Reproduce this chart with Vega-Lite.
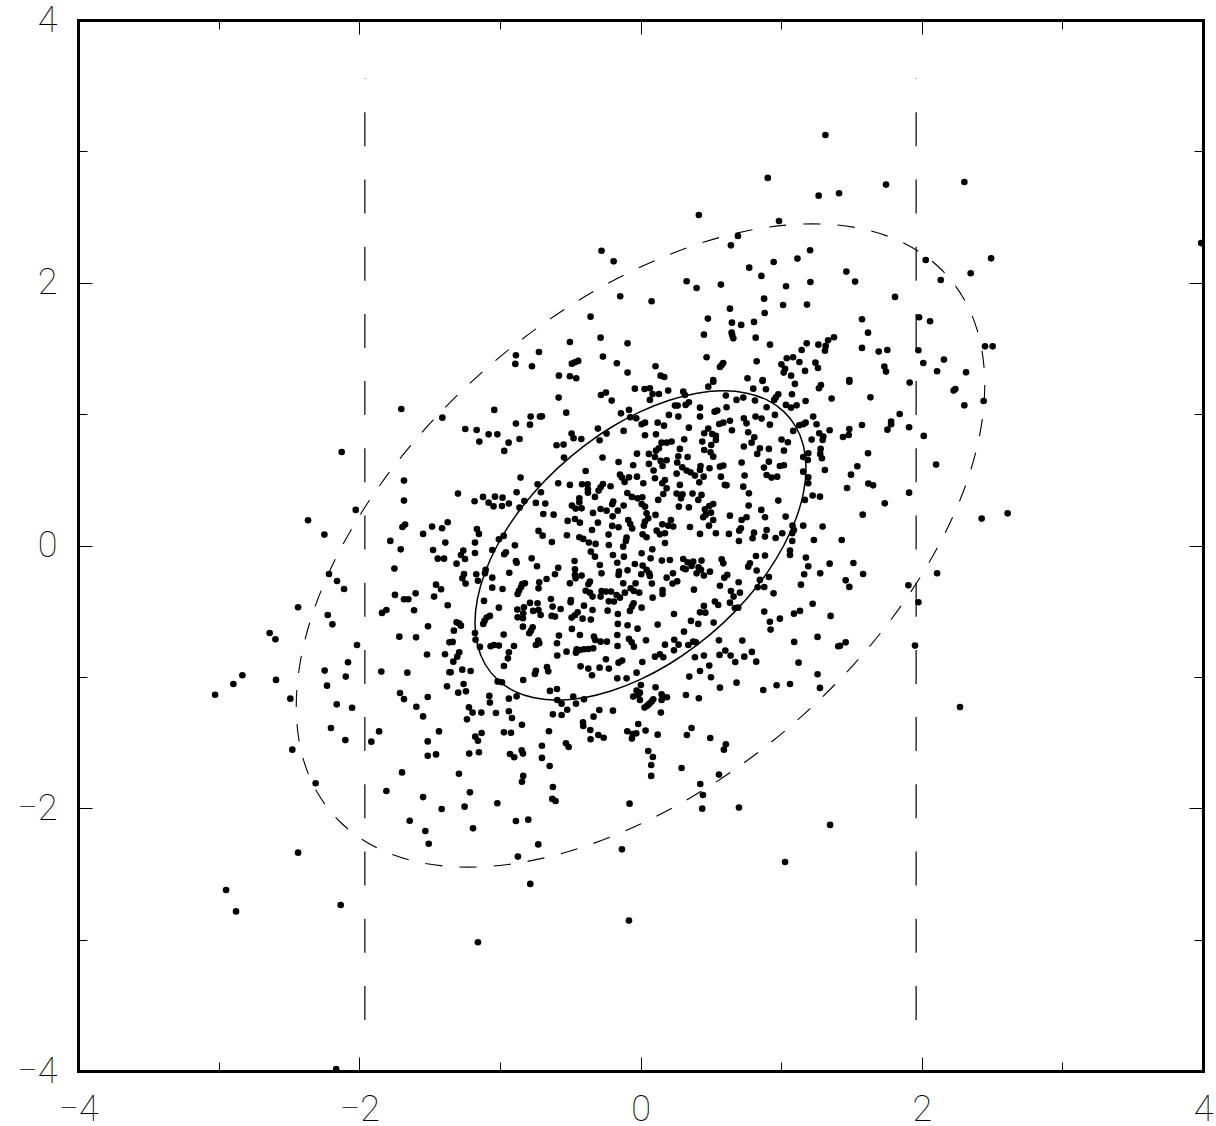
{
"$schema":"https://vega.github.io/schema/vega-lite/v6.json",
"width":1125,"height":1051,"autosize":"none",
"padding":{"left":78,"top":20,"right":13,"bottom":55},
"background":"white",
"config":{"view":{"stroke":null},"axis":{"grid":false,"domainColor":"black","domainWidth":3,"domainCap":"square","tickColor":"black","tickWidth":1,"labelColor":"black","labelFont":"Roboto","labelFontWeight":100,"labelFontSize":36,"title":null}},
"datasets":{
"cuts":[{"side":"a","o":0,"x":-1.96,"y":-3.611},{"side":"a","o":1,"x":-1.96,"y":3.555},{"side":"b","o":0,"x":1.96,"y":-3.611},{"side":"b","o":1,"x":1.96,"y":3.555}],
"inner":[{"t":0,"x":1.177,"y":0.589},{"t":10,"x":1.159,"y":0.757},{"t":20,"x":1.106,"y":0.902},{"t":30,"x":1.019,"y":1.019},{"t":40,"x":0.902,"y":1.106},{"t":50,"x":0.757,"y":1.159},{"t":60,"x":0.589,"y":1.177},{"t":70,"x":0.403,"y":1.159},{"t":80,"x":0.205,"y":1.106},{"t":90,"x":0,"y":1.019},{"t":100,"x":-0.205,"y":0.902},{"t":110,"x":-0.403,"y":0.757},{"t":120,"x":-0.589,"y":0.589},{"t":130,"x":-0.757,"y":0.403},{"t":140,"x":-0.902,"y":0.205},{"t":150,"x":-1.019,"y":0},{"t":160,"x":-1.106,"y":-0.205},{"t":170,"x":-1.159,"y":-0.403},{"t":180,"x":-1.177,"y":-0.589},{"t":190,"x":-1.159,"y":-0.757},{"t":200,"x":-1.106,"y":-0.902},{"t":210,"x":-1.019,"y":-1.019},{"t":220,"x":-0.902,"y":-1.106},{"t":230,"x":-0.757,"y":-1.159},{"t":240,"x":-0.589,"y":-1.177},{"t":250,"x":-0.403,"y":-1.159},{"t":260,"x":-0.205,"y":-1.106},{"t":270,"x":0,"y":-1.019},{"t":280,"x":0.205,"y":-0.902},{"t":290,"x":0.403,"y":-0.757},{"t":300,"x":0.589,"y":-0.589},{"t":310,"x":0.757,"y":-0.403},{"t":320,"x":0.902,"y":-0.205},{"t":330,"x":1.019,"y":0},{"t":340,"x":1.106,"y":0.205},{"t":350,"x":1.159,"y":0.403}],
"outer":[{"t":0,"x":2.448,"y":1.224},{"t":10,"x":2.411,"y":1.574},{"t":20,"x":2.301,"y":1.875},{"t":30,"x":2.12,"y":2.12},{"t":40,"x":1.875,"y":2.301},{"t":50,"x":1.574,"y":2.411},{"t":60,"x":1.224,"y":2.448},{"t":70,"x":0.837,"y":2.411},{"t":80,"x":0.426,"y":2.301},{"t":90,"x":0,"y":2.12},{"t":100,"x":-0.426,"y":1.875},{"t":110,"x":-0.837,"y":1.574},{"t":120,"x":-1.224,"y":1.224},{"t":130,"x":-1.574,"y":0.837},{"t":140,"x":-1.875,"y":0.426},{"t":150,"x":-2.12,"y":0},{"t":160,"x":-2.301,"y":-0.426},{"t":170,"x":-2.411,"y":-0.837},{"t":180,"x":-2.448,"y":-1.224},{"t":190,"x":-2.411,"y":-1.574},{"t":200,"x":-2.301,"y":-1.875},{"t":210,"x":-2.12,"y":-2.12},{"t":220,"x":-1.875,"y":-2.301},{"t":230,"x":-1.574,"y":-2.411},{"t":240,"x":-1.224,"y":-2.448},{"t":250,"x":-0.837,"y":-2.411},{"t":260,"x":-0.426,"y":-2.301},{"t":270,"x":0,"y":-2.12},{"t":280,"x":0.426,"y":-1.875},{"t":290,"x":0.837,"y":-1.574},{"t":300,"x":1.224,"y":-1.224},{"t":310,"x":1.574,"y":-0.837},{"t":320,"x":1.875,"y":-0.426},{"t":330,"x":2.12,"y":0},{"t":340,"x":2.301,"y":0.426},{"t":350,"x":2.411,"y":0.837}],
"points":[
{"x":-0.582,"y":1.126},{"x":-0.281,"y":1.146},{"x":-0.246,"y":1.164},{"x":-0.205,"y":1.103},{"x":-0.04,"y":1.194},{"x":-1.04,"y":1.032},{"x":-0.528,"y":1.011},{"x":-0.139,"y":1.006},{"x":-0.082,"y":1.032},{"x":-0.073,"y":0.976},{"x":-0.03,"y":0.968},{"x":-0.781,"y":0.981},{"x":-0.715,"y":0.981},{"x":-0.701,"y":0.983},{"x":-0.886,"y":0.928},{"x":-0.786,"y":0.92},{"x":-1.246,"y":0.887},{"x":-1.165,"y":0.879},{"x":-1.08,"y":0.846},{"x":-1.018,"y":0.846},{"x":-1.146,"y":0.791},{"x":-0.938,"y":0.783},{"x":-0.86,"y":0.811},{"x":-0.969,"y":0.72},{"x":-0.49,"y":0.852},{"x":-0.476,"y":0.816},{"x":-0.421,"y":0.811},{"x":-0.303,"y":0.89},{"x":-0.241,"y":0.852},{"x":-0.291,"y":0.801},{"x":-0.12,"y":0.872},{"x":-0.597,"y":0.763},{"x":-0.547,"y":0.768},{"x":-0.544,"y":0.669},{"x":-0.27,"y":0.669},{"x":-0.156,"y":0.636},{"x":-0.025,"y":0.699},{"x":-0.052,"y":0.611},{"x":-0.39,"y":0.567},{"x":-0.853,"y":0.517},{"x":-0.146,"y":0.539},{"x":-0.132,"y":0.517},{"x":-0.113,"y":0.484},{"x":-0.082,"y":0.519},{"x":-0.025,"y":0.524},{"x":-0.585,"y":0.474},{"x":-0.502,"y":0.461},{"x":-0.416,"y":0.466},{"x":-0.376,"y":0.466},{"x":-0.732,"y":0.466},{"x":-0.374,"y":0.428},{"x":-0.374,"y":0.402},{"x":-0.267,"y":0.468},{"x":-0.284,"y":0.443},{"x":-0.298,"y":0.418},{"x":-0.213,"y":0.451},{"x":-0.708,"y":0.405},{"x":-0.881,"y":0.405},{"x":-1.298,"y":0.395},{"x":-1.12,"y":0.37},{"x":-1.035,"y":0.372},{"x":-0.981,"y":0.364},{"x":-1.18,"y":0.337},{"x":-1.08,"y":0.326},{"x":-1.045,"y":0.298},{"x":-0.985,"y":0.301},{"x":-0.936,"y":0.319},{"x":-0.826,"y":0.339},{"x":-0.86,"y":0.288},{"x":-0.744,"y":0.324},{"x":-0.677,"y":0.319},{"x":-0.691,"y":0.24},{"x":-0.618,"y":0.235},{"x":-0.094,"y":0.4},{"x":-0.061,"y":0.37},{"x":-0.021,"y":0.359},{"x":-0.324,"y":0.37},{"x":-0.435,"y":0.359},{"x":-0.435,"y":0.329},{"x":-0.488,"y":0.304},{"x":-0.461,"y":0.281},{"x":-0.419,"y":0.283},{"x":-0.284,"y":0.278},{"x":-0.241,"y":0.265},{"x":-0.194,"y":0.334},{"x":-0.201,"y":0.314},{"x":-0.12,"y":0.304},{"x":-0.161,"y":0.265},{"x":-0.338,"y":0.248},{"x":-0.198,"y":0.222},{"x":-0.518,"y":0.187},{"x":-0.466,"y":0.202},{"x":-0.431,"y":0.174},{"x":-0.303,"y":0.174},{"x":-0.087,"y":0.194},{"x":-0.073,"y":0.164},{"x":-0.059,"y":0.129},{"x":-0.201,"y":0.149},{"x":-0.156,"y":0.139},{"x":-0.345,"y":0.118},{"x":-0.227,"y":0.083},{"x":-0.099,"y":0.06},{"x":-0.523,"y":0.078},{"x":-0.435,"y":0.063},{"x":-0.407,"y":0.05},{"x":-0.725,"y":0.111},{"x":-0.696,"y":0.075},{"x":-1.163,"y":0.126},{"x":-1.149,"y":0.088},{"x":-0.973,"y":0.073},{"x":-1.007,"y":0.047},
{"x":0.029,"y":1.191},{"x":0.067,"y":1.197},{"x":0.086,"y":1.153},{"x":0.131,"y":1.153},{"x":0.197,"y":1.179},{"x":0.304,"y":1.171},{"x":0.316,"y":1.146},{"x":0.482,"y":1.209},{"x":0.517,"y":1.247},{"x":0.868,"y":1.252},{"x":0.802,"y":1.194},{"x":0.892,"y":1.189},{"x":1.098,"y":1.23},{"x":1.283,"y":1.222},{"x":1.269,"y":1.197},{"x":0.067,"y":1.108},{"x":0.344,"y":1.09},{"x":0.321,"y":1.07},{"x":0.245,"y":1.065},{"x":0.264,"y":1.065},{"x":0.423,"y":1.049},{"x":0.546,"y":1.027},{"x":0.527,"y":1.019},{"x":0.612,"y":1.052},{"x":0.607,"y":1.141},{"x":0.683,"y":1.108},{"x":0.731,"y":1.126},{"x":0.814,"y":1.103},{"x":0.897,"y":1.052},{"x":0.98,"y":1.151},{"x":0.963,"y":1.128},{"x":0.951,"y":1.108},{"x":1.077,"y":1.151},{"x":1.034,"y":1.07},{"x":1.07,"y":1.049},{"x":1.11,"y":1.067},{"x":1.174,"y":1.1},{"x":1.359,"y":1.118},{"x":0.202,"y":0.994},{"x":0.269,"y":0.981},{"x":0.423,"y":0.981},{"x":0.818,"y":0.981},{"x":0.861,"y":0.966},{"x":0.956,"y":0.994},{"x":0.735,"y":0.968},{"x":0.754,"y":0.93},{"x":0.636,"y":0.95},{"x":0.589,"y":0.935},{"x":0.56,"y":0.925},{"x":0.92,"y":0.92},{"x":1.228,"y":0.981},{"x":1.252,"y":0.923},{"x":1.174,"y":0.935},{"x":1.157,"y":0.923},{"x":1.129,"y":0.915},{"x":1.086,"y":0.872},{"x":0.032,"y":0.935},{"x":0.008,"y":0.923},{"x":0.122,"y":0.935},{"x":0.167,"y":0.912},{"x":0.344,"y":0.897},{"x":0.032,"y":0.839},{"x":0.11,"y":0.846},{"x":0.482,"y":0.89},{"x":0.453,"y":0.854},{"x":0.51,"y":0.849},{"x":0.536,"y":0.834},{"x":0.536,"y":0.803},{"x":0.65,"y":0.877},{"x":0.766,"y":0.862},{"x":0.809,"y":0.824},{"x":0.79,"y":0.783},{"x":1.003,"y":0.806},{"x":1.048,"y":0.786},{"x":1.217,"y":0.806},{"x":1.271,"y":0.854},{"x":1.3,"y":0.829},{"x":1.295,"y":0.803},{"x":1.345,"y":0.877},{"x":0.311,"y":0.808},{"x":0.221,"y":0.791},{"x":0.186,"y":0.783},{"x":0.15,"y":0.783},{"x":0.439,"y":0.791},{"x":0.503,"y":0.765},{"x":0.735,"y":0.753},{"x":0.849,"y":0.74},{"x":0.83,"y":0.697},{"x":0.913,"y":0.735},{"x":1.02,"y":0.722},{"x":0.28,"y":0.735},{"x":0.131,"y":0.74},{"x":0.11,"y":0.722},{"x":0.06,"y":0.697},{"x":0.453,"y":0.727},{"x":0.498,"y":0.709},{"x":0.517,"y":0.676},{"x":0.335,"y":0.674},{"x":0.269,"y":0.679},{"x":0.103,"y":0.674},{"x":1.193,"y":0.702},{"x":1.157,"y":0.674},{"x":1.19,"y":0.651},{"x":1.281,"y":0.735},{"x":1.278,"y":0.697},{"x":1.29,"y":0.664},{"x":0.719,"y":0.631},{"x":0.913,"y":0.638},{"x":0.261,"y":0.631},{"x":0.186,"y":0.649},{"x":0.143,"y":0.644},{"x":0.157,"y":0.605},{"x":0.06,"y":0.621},{"x":0.991,"y":0.605},{"x":1.02,"y":0.611},{"x":1.311,"y":0.575},{"x":0.878,"y":0.593},{"x":0.297,"y":0.595},{"x":0.328,"y":0.57},{"x":0.356,"y":0.557},{"x":0.427,"y":0.605},{"x":0.423,"y":0.575},{"x":0.491,"y":0.588},{"x":0.589,"y":0.608},{"x":0.565,"y":0.6},{"x":0.093,"y":0.57},{"x":0.257,"y":0.547},{"x":0.387,"y":0.532},{"x":0.449,"y":0.524},{"x":0.572,"y":0.524},{"x":0.74,"y":0.532},{"x":0.897,"y":0.537},{"x":0.932,"y":0.517},{"x":0.972,"y":0.524},{"x":0.103,"y":0.512},{"x":0.174,"y":0.499},{"x":0.155,"y":0.474},{"x":1.157,"y":0.562},{"x":1.193,"y":0.519},{"x":1.193,"y":0.474},{"x":0.02,"y":0.474},{"x":0.418,"y":0.481},{"x":0.6,"y":0.461},{"x":0.612,"y":0.458},{"x":0.731,"y":0.448},{"x":0.28,"y":0.461},{"x":0.186,"y":0.435},{"x":0.162,"y":0.392},{"x":0.257,"y":0.395},{"x":0.299,"y":0.39},{"x":0.288,"y":0.359},{"x":0.37,"y":0.395},{"x":0.434,"y":0.385},{"x":0.411,"y":0.347},{"x":0.771,"y":0.397},{"x":0.126,"y":0.347},{"x":0.013,"y":0.367},{"x":0.008,"y":0.316},{"x":0.032,"y":0.296},{"x":0.98,"y":0.342},{"x":1.169,"y":0.347},{"x":1.224,"y":0.38},{"x":1.276,"y":0.372},{"x":0.273,"y":0.296},{"x":0.344,"y":0.291},{"x":0.458,"y":0.276},{"x":0.489,"y":0.301},{"x":0.517,"y":0.316},{"x":0.501,"y":0.25},{"x":0.463,"y":0.233},{"x":0.446,"y":0.215},{"x":0.769,"y":0.304},{"x":0.859,"y":0.271},{"x":0.636,"y":0.227},{"x":0.754,"y":0.215},{"x":0.719,"y":0.194},{"x":0.885,"y":0.215},{"x":1.032,"y":0.22},{"x":0.043,"y":0.245},{"x":0.107,"y":0.233},{"x":0.055,"y":0.207},{"x":0.032,"y":0.182},{"x":0.216,"y":0.194},{"x":0.155,"y":0.161},{"x":0.197,"y":0.151},{"x":0.233,"y":0.144},{"x":0.352,"y":0.141},{"x":0.487,"y":0.151},{"x":0.517,"y":0.194},{"x":0.024,"y":0.151},{"x":0.714,"y":0.131},{"x":0.702,"y":0.113},{"x":1.081,"y":0.151},{"x":1.157,"y":0.151},{"x":1.295,"y":0.144},{"x":0.897,"y":0.118},{"x":1.091,"y":0.118},{"x":1.079,"y":0.093},{"x":0.115,"y":0.113},{"x":0.138,"y":0.085},{"x":0.174,"y":0.093},{"x":0.423,"y":0.088},{"x":0.536,"y":0.093},{"x":0.629,"y":0.088},{"x":0.807,"y":0.098},{"x":0.797,"y":0.055},{"x":0.885,"y":0.068},{"x":0.961,"y":0.057},{"x":1.008,"y":0.093},{"x":0.015,"y":0.085},{"x":0.043,"y":0.063},
{"x":-1.177,"y":0.022},{"x":-0.893,"y":0.001},{"x":-0.63,"y":0.027},{"x":-0.367,"y":0.022},{"x":-0.319,"y":0.012},{"x":-0.225,"y":0.004},{"x":-0.123,"y":-0.009},{"x":-0.104,"y":0.034},{"x":-1.26,"y":-0.039},{"x":-1.277,"y":-0.072},{"x":-1.248,"y":-0.103},{"x":-1.308,"y":-0.138},{"x":-1.177,"y":-0.057},{"x":-1.054,"y":-0.034},{"x":-0.957,"y":-0.052},{"x":-0.969,"y":-0.067},{"x":-0.774,"y":-0.098},{"x":-0.886,"y":-0.118},{"x":-0.881,"y":-0.131},{"x":-0.736,"y":-0.158},{"x":-0.469,"y":-0.118},{"x":-0.353,"y":-0.047},{"x":-0.324,"y":-0.085},{"x":-0.196,"y":-0.072},{"x":-0.118,"y":-0.085},{"x":-0.165,"y":-0.131},{"x":-0.289,"y":-0.148},{"x":-0.04,"y":-0.141},{"x":-0.585,"y":-0.169},{"x":-0.466,"y":-0.181},{"x":-0.608,"y":-0.219},{"x":-0.668,"y":-0.255},{"x":-0.933,"y":-0.207},{"x":-1.101,"y":-0.186},{"x":-1.106,"y":-0.212},{"x":-1.168,"y":-0.219},{"x":-1.255,"y":-0.217},{"x":-1.267,"y":-0.25},{"x":-1.156,"y":-0.268},{"x":-1.244,"y":-0.29},{"x":-1.054,"y":-0.245},{"x":-0.466,"y":-0.224},{"x":-0.419,"y":-0.229},{"x":-0.461,"y":-0.25},{"x":-0.277,"y":-0.212},{"x":-0.092,"y":-0.189},{"x":-0.153,"y":-0.199},{"x":-0.156,"y":-0.224},{"x":-0.822,"y":-0.288},{"x":-0.841,"y":-0.293},{"x":-0.85,"y":-0.318},{"x":-0.864,"y":-0.344},{"x":-0.874,"y":-0.369},{"x":-0.72,"y":-0.28},{"x":-0.725,"y":-0.326},{"x":-1.054,"y":-0.321},{"x":-0.981,"y":-0.331},{"x":-0.502,"y":-0.288},{"x":-0.36,"y":-0.275},{"x":-0.371,"y":-0.295},{"x":-0.123,"y":-0.288},{"x":-0.035,"y":-0.288},{"x":-0.39,"y":-0.344},{"x":-0.36,"y":-0.359},{"x":-0.341,"y":-0.389},{"x":-0.277,"y":-0.346},{"x":-0.284,"y":-0.389},{"x":-0.246,"y":-0.351},{"x":-0.21,"y":-0.351},{"x":-0.07,"y":-0.326},{"x":-0.047,"y":-0.346},{"x":-0.009,"y":-0.359},{"x":-0.111,"y":-0.359},{"x":-0.17,"y":-0.377},{"x":-0.146,"y":-0.397},{"x":-0.225,"y":-0.425},{"x":-0.189,"y":-0.427},{"x":-0.637,"y":-0.407},{"x":-0.495,"y":-0.415},{"x":-0.497,"y":-0.432},{"x":-1.113,"y":-0.422},{"x":-1.007,"y":-0.473},{"x":-0.786,"y":-0.437},{"x":-0.732,"y":-0.44},{"x":-0.625,"y":-0.465},{"x":-0.568,"y":-0.483},{"x":-0.402,"y":-0.458},{"x":-0.341,"y":-0.491},{"x":-0.049,"y":-0.44},{"x":-0.061,"y":-0.465},{"x":-0.075,"y":-0.498},{"x":-0.234,"y":-0.496},{"x":-0.876,"y":-0.488},{"x":-0.829,"y":-0.47},{"x":-0.763,"y":-0.498},{"x":-0.725,"y":-0.491},{"x":-0.71,"y":-0.529},{"x":-0.834,"y":-0.516},{"x":-0.836,"y":-0.554},{"x":-0.874,"y":-0.547},{"x":-0.632,"y":-0.536},{"x":-0.608,"y":-0.541},{"x":-0.447,"y":-0.509},{"x":-0.466,"y":-0.531},{"x":-0.49,"y":-0.549},{"x":-0.412,"y":-0.557},{"x":-0.353,"y":-0.564},{"x":-0.161,"y":-0.521},{"x":-1.071,"y":-0.536},{"x":-1.094,"y":-0.549},{"x":-1.109,"y":-0.574},{"x":-1.118,"y":-0.597},{"x":-1.308,"y":-0.585},{"x":-1.291,"y":-0.592},{"x":-1.277,"y":-0.61},{"x":-1.327,"y":-0.648},{"x":-0.836,"y":-0.618},{"x":-0.767,"y":-0.623},{"x":-0.779,"y":-0.648},{"x":-0.791,"y":-0.668},{"x":-0.488,"y":-0.635},{"x":-0.161,"y":-0.597},{"x":-0.092,"y":-0.607},{"x":-0.021,"y":-0.633},{"x":-1.177,"y":-0.666},{"x":-0.973,"y":-0.678},{"x":-0.58,"y":-0.686},{"x":-0.431,"y":-0.681},{"x":-0.331,"y":-0.694},{"x":-0.322,"y":-0.719},{"x":-0.284,"y":-0.732},{"x":-0.239,"y":-0.732},{"x":-0.165,"y":-0.681},{"x":-0.082,"y":-0.711},{"x":-0.063,"y":-0.737},{"x":-0.047,"y":-0.77},{"x":-1.173,"y":-0.717},{"x":-1.142,"y":-0.772},{"x":-1.336,"y":-0.734},{"x":-0.727,"y":-0.724},{"x":-0.72,"y":-0.744},{"x":-0.744,"y":-0.757},{"x":-1.066,"y":-0.767},{"x":-1.042,"y":-0.757},{"x":-1.007,"y":-0.762},{"x":-0.9,"y":-0.765},{"x":-0.594,"y":-0.744},{"x":-0.163,"y":-0.765},{"x":-0.936,"y":-0.813},{"x":-0.943,"y":-0.859},{"x":-0.971,"y":-0.917},{"x":-1.289,"y":-0.813},{"x":-1.303,"y":-0.846},{"x":-1.331,"y":-0.884},{"x":-0.454,"y":-0.79},{"x":-0.459,"y":-0.816},{"x":-0.431,"y":-0.795},{"x":-0.402,"y":-0.79},{"x":-0.371,"y":-0.788},{"x":-0.336,"y":-0.783},{"x":-0.526,"y":-0.808},{"x":-0.592,"y":-0.838},{"x":-0.246,"y":-0.866},{"x":-0.13,"y":-0.876},{"x":-0.156,"y":-0.892},{"x":-0.426,"y":-0.92},{"x":-0.371,"y":-0.937},{"x":-0.291,"y":-0.93},{"x":-0.225,"y":-0.937},{"x":-1.267,"y":-0.945},{"x":-1.208,"y":-0.955},{"x":-1.35,"y":-0.965},{"x":-0.744,"y":-0.953},{"x":-0.751,"y":-0.978},{"x":-0.665,"y":-0.925},{"x":-0.656,"y":-0.958},{"x":-0.345,"y":-0.988},{"x":-0.028,"y":-0.968},{"x":-0.165,"y":-1.011},{"x":-0.099,"y":-1.011},{"x":-0.834,"y":-1.024},{"x":-1.016,"y":-1.036},{"x":-0.985,"y":-1.041},{"x":-1.258,"y":-1.054},{"x":-1.241,"y":-1.11},{"x":-1.296,"y":-1.12},{"x":-0.594,"y":-1.092},{"x":-0.644,"y":-1.107},{"x":-1.075,"y":-1.145},{"x":-1.071,"y":-1.196},{"x":-0.936,"y":-1.166},{"x":-0.881,"y":-1.148},{"x":-0.478,"y":-1.15},{"x":-0.592,"y":-1.176},{"x":-0.561,"y":-1.204},{"x":-0.402,"y":-1.171},{"x":-0.459,"y":-1.204},{"x":-0.052,"y":-1.15},{"x":-0.016,"y":-1.138},{"x":-0.028,"y":-1.105},{"x":-1.22,"y":-1.232},
{"x":0.7,"y":0.034},{"x":0.174,"y":0.019},{"x":1.079,"y":0.034},{"x":1.233,"y":0.042},{"x":0.084,"y":-0.029},{"x":0.008,"y":-0.059},{"x":0.072,"y":-0.098},{"x":0.152,"y":-0.115},{"x":0.209,"y":-0.11},{"x":0.304,"y":-0.103},{"x":0.335,"y":-0.128},{"x":0.375,"y":-0.123},{"x":0.434,"y":-0.115},{"x":0.304,"y":-0.174},{"x":0.321,"y":-0.181},{"x":0.363,"y":-0.156},{"x":0.413,"y":-0.166},{"x":0.399,"y":-0.212},{"x":0.43,"y":-0.186},{"x":0.451,"y":-0.229},{"x":0.494,"y":-0.199},{"x":0.577,"y":-0.105},{"x":0.589,"y":-0.136},{"x":0.821,"y":-0.08},{"x":0.885,"y":-0.077},{"x":1.063,"y":-0.039},{"x":1.063,"y":-0.072},{"x":1.176,"y":-0.092},{"x":1.193,"y":-0.158},{"x":1.345,"y":-0.138},{"x":0.015,"y":-0.153},{"x":0.043,"y":-0.186},{"x":0.062,"y":-0.212},{"x":0.067,"y":-0.232},{"x":0.005,"y":-0.219},{"x":0.231,"y":-0.212},{"x":0.186,"y":-0.245},{"x":0.261,"y":-0.273},{"x":0.228,"y":-0.29},{"x":0.081,"y":-0.29},{"x":0.778,"y":-0.136},{"x":0.766,"y":-0.161},{"x":0.826,"y":-0.191},{"x":0.617,"y":-0.224},{"x":0.596,"y":-0.245},{"x":0.698,"y":-0.28},{"x":0.565,"y":-0.306},{"x":0.157,"y":-0.339},{"x":0.157,"y":-0.369},{"x":0.38,"y":-0.336},{"x":0.643,"y":-0.346},{"x":0.707,"y":-0.359},{"x":0.662,"y":-0.389},{"x":0.849,"y":-0.262},{"x":0.913,"y":-0.24},{"x":0.833,"y":-0.318},{"x":0.88,"y":-0.316},{"x":0.946,"y":-0.364},{"x":1.164,"y":-0.219},{"x":1.278,"y":-0.212},{"x":1.141,"y":-0.298},{"x":0.086,"y":-0.397},{"x":0.529,"y":-0.427},{"x":0.553,"y":-0.453},{"x":0.636,"y":-0.435},{"x":0.451,"y":-0.46},{"x":0.671,"y":-0.476},{"x":0.695,"y":-0.473},{"x":1.224,"y":-0.443},{"x":0.008,"y":-0.473},{"x":0.423,"y":-0.509},{"x":0.461,"y":-0.511},{"x":0.238,"y":-0.521},{"x":0.88,"y":-0.503},{"x":1.134,"y":-0.498},{"x":1.091,"y":-0.519},{"x":1.352,"y":-0.536},{"x":0.991,"y":-0.557},{"x":0.92,"y":-0.58},{"x":0.925,"y":-0.64},{"x":0.359,"y":-0.574},{"x":0.411,"y":-0.597},{"x":0.52,"y":-0.587},{"x":0.122,"y":-0.602},{"x":0.309,"y":-0.656},{"x":1.259,"y":-0.696},{"x":0.039,"y":-0.722},{"x":0.24,"y":-0.717},{"x":0.558,"y":-0.722},{"x":0.724,"y":-0.724},{"x":1.093,"y":-0.734},{"x":0.174,"y":-0.755},{"x":0.271,"y":-0.755},{"x":0.34,"y":-0.757},{"x":0.375,"y":-0.732},{"x":0.394,"y":-0.737},{"x":0.238,"y":-0.798},{"x":1.406,"y":-0.767},{"x":0.603,"y":-0.8},{"x":0.792,"y":-0.81},{"x":0.103,"y":-0.846},{"x":0.138,"y":-0.828},{"x":0.162,"y":-0.851},{"x":0.387,"y":-0.851},{"x":0.451,"y":-0.838},{"x":0.562,"y":-0.833},{"x":0.641,"y":-0.838},{"x":0.738,"y":-0.846},{"x":0.674,"y":-0.887},{"x":0.823,"y":-0.884},{"x":0.013,"y":-0.887},{"x":1.124,"y":-0.892},{"x":0.489,"y":-0.914},{"x":0.423,"y":-0.955},{"x":0.347,"y":-0.998},{"x":0.501,"y":-1.003},{"x":1.259,"y":-0.98},{"x":0.683,"y":-1.044},{"x":0.565,"y":-1.082},{"x":0.873,"y":-1.1},{"x":0.968,"y":-1.064},{"x":1.063,"y":-1.054},{"x":1.276,"y":-1.084},{"x":0.107,"y":-1.079},{"x":0.003,"y":-1.062},{"x":0.15,"y":-1.133},{"x":0.188,"y":-1.155},{"x":0.15,"y":-1.176},{"x":0.323,"y":-1.138},{"x":0.415,"y":-1.163},{"x":-0.004,"y":-1.12},{"x":-0.004,"y":-1.176},{"x":0.091,"y":-1.171},{"x":0.079,"y":-1.188},{"x":0.062,"y":-1.206},{"x":0.048,"y":-1.219},{"x":0.029,"y":-1.234},
{"x":-1.701,"y":1.039},{"x":-1.409,"y":0.973},{"x":-2.125,"y":0.712},{"x":-1.682,"y":0.494},{"x":-1.682,"y":0.342},{"x":-2.025,"y":0.271},{"x":-2.364,"y":0.192},{"x":-2.248,"y":0.083},{"x":-1.371,"y":0.177},{"x":-1.674,"y":0.159},{"x":-1.693,"y":0.141},{"x":-1.482,"y":0.144},{"x":-1.411,"y":0.131},{"x":-1.546,"y":0.088},{"x":-1.779,"y":0.035},{"x":-1.388,"y":0.022},{"x":-1.705,"y":-0.029},{"x":-1.475,"y":-0.034},{"x":-1.442,"y":-0.1},{"x":-1.397,"y":-0.1},{"x":-1.75,"y":-0.176},{"x":-2.215,"y":-0.217},{"x":-2.158,"y":-0.27},{"x":-2.108,"y":-0.331},{"x":-1.454,"y":-0.298},{"x":-1.418,"y":-0.333},{"x":-1.468,"y":-0.389},{"x":-1.599,"y":-0.364},{"x":-1.746,"y":-0.376},{"x":-1.682,"y":-0.409},{"x":-1.651,"y":-0.409},{"x":-2.435,"y":-0.47},{"x":-2.224,"y":-0.529},{"x":-2.191,"y":-0.6},{"x":-1.61,"y":-0.493},{"x":-1.371,"y":-0.455},{"x":-1.807,"y":-0.491},{"x":-1.838,"y":-0.513},{"x":-1.511,"y":-0.615},{"x":-2.637,"y":-0.666},{"x":-2.596,"y":-0.714},{"x":-1.715,"y":-0.694},{"x":-1.596,"y":-0.699},{"x":-2.016,"y":-0.757},{"x":-1.518,"y":-0.83},{"x":-1.39,"y":-0.828},{"x":-2.08,"y":-0.889},{"x":-2.246,"y":-0.952},{"x":-2.831,"y":-0.988},{"x":-2.592,"y":-1.023},{"x":-2.096,"y":-0.998},{"x":-1.843,"y":-0.96},{"x":-1.658,"y":-0.968},{"x":-1.359,"y":-0.965},{"x":-1.359,"y":-0.737},
{"x":-2.895,"y":-1.054},{"x":-3.025,"y":-1.136},{"x":-2.49,"y":-1.166},{"x":-2.229,"y":-1.067},{"x":-2.16,"y":-1.209},{"x":-2.051,"y":-1.235},{"x":-1.71,"y":-1.123},{"x":-1.682,"y":-1.169},{"x":-1.513,"y":-1.153},{"x":-1.376,"y":-1.072},{"x":-1.594,"y":-1.227},{"x":-1.546,"y":-1.301},{"x":-2.201,"y":-1.389},{"x":-2.099,"y":-1.481},{"x":-1.859,"y":-1.415},{"x":-1.914,"y":-1.493},{"x":-1.433,"y":-1.415},{"x":-1.513,"y":-1.491},{"x":-2.476,"y":-1.554},{"x":-1.513,"y":-1.6},{"x":-1.454,"y":-1.59},{"x":-1.696,"y":-1.727},{"x":-2.31,"y":-1.81},{"x":-1.807,"y":-1.869},{"x":-1.546,"y":-1.915},{"x":-1.414,"y":-2.006},{"x":-1.641,"y":-2.095},{"x":-1.53,"y":-2.173},{"x":-1.506,"y":-2.27},{"x":-2.435,"y":-2.338},{"x":-2.947,"y":-2.622},{"x":-2.876,"y":-2.785},{"x":-2.132,"y":-2.736},
{"x":-1.194,"y":-1.272},{"x":-1.132,"y":-1.272},{"x":-1.028,"y":-1.275},{"x":-0.936,"y":-1.262},{"x":-1.234,"y":-1.323},{"x":-0.914,"y":-1.313},{"x":-0.843,"y":-1.364},{"x":-0.971,"y":-1.422},{"x":-0.921,"y":-1.425},{"x":-1.13,"y":-1.427},{"x":-1.175,"y":-1.455},{"x":-1.156,"y":-1.486},{"x":-0.651,"y":-1.414},{"x":-0.623,"y":-1.285},{"x":-0.561,"y":-1.29},{"x":-0.521,"y":-1.25},{"x":-0.334,"y":-1.303},{"x":-0.293,"y":-1.252},{"x":-0.196,"y":-1.257},{"x":-0.409,"y":-1.346},{"x":-0.407,"y":-1.374},{"x":-0.357,"y":-1.404},{"x":-0.3,"y":-1.442},{"x":-0.262,"y":-1.463},{"x":-0.355,"y":-1.475},{"x":-0.016,"y":-1.359},{"x":0.145,"y":-1.272},{"x":-0.094,"y":-1.414},{"x":-0.056,"y":-1.435},{"x":-0.03,"y":-1.43},{"x":-0.061,"y":-1.47},{"x":0.036,"y":-1.409},{"x":0.122,"y":-1.44},{"x":-0.701,"y":-1.524},{"x":-0.53,"y":-1.506},{"x":-0.511,"y":-1.534},{"x":-1.218,"y":-1.584},{"x":-1.149,"y":-1.574},{"x":-0.928,"y":-1.587},{"x":-0.898,"y":-1.612},{"x":-0.845,"y":-1.559},{"x":-0.836,"y":-1.584},{"x":-0.701,"y":-1.617},{"x":-0.646,"y":-1.678},{"x":-1.291,"y":-1.737},{"x":-0.834,"y":-1.754},{"x":-0.843,"y":-1.798},{"x":-1.213,"y":-1.879},{"x":-0.623,"y":-1.838},{"x":-0.627,"y":-1.929},{"x":-0.604,"y":-1.945},{"x":-1.251,"y":-1.988},{"x":-1.018,"y":-1.962},{"x":-0.886,"y":-2.097},{"x":-0.798,"y":-2.087},{"x":-1.191,"y":-2.153},{"x":-0.727,"y":-2.275},{"x":-0.872,"y":-2.368},{"x":-0.784,"y":-2.576},{"x":-1.156,"y":-3.02},{"x":-0.132,"y":-2.313},{"x":-0.082,"y":-2.855},{"x":-0.078,"y":-1.965},{"x":0.055,"y":-1.564},{"x":0.088,"y":-1.61},{"x":0.076,"y":-1.671},{"x":0.076,"y":-1.754},{"x":0.292,"y":-1.694},{"x":0.363,"y":-1.389},{"x":0.33,"y":-1.442},{"x":0.496,"y":-1.465},{"x":0.607,"y":-1.513},{"x":0.593,"y":-1.554},{"x":0.558,"y":-1.744},{"x":0.425,"y":-1.815},{"x":0.444,"y":-1.899},{"x":0.439,"y":-2.003},{"x":0.7,"y":-1.995},
{"x":0.415,"y":2.516},{"x":0.693,"y":2.356},{"x":0.643,"y":2.285},{"x":-0.277,"y":2.244},{"x":-0.191,"y":2.163},{"x":0.773,"y":2.115},{"x":0.328,"y":2.011},{"x":0.399,"y":1.96},{"x":0.572,"y":1.986},{"x":-0.144,"y":1.897},{"x":0.079,"y":1.859},{"x":0.636,"y":1.803},{"x":-0.355,"y":1.742},{"x":0.479,"y":1.727},{"x":0.65,"y":1.696},{"x":0.716,"y":1.679},{"x":0.648,"y":1.62},{"x":0.652,"y":1.603},{"x":0.66,"y":1.577},{"x":0.451,"y":1.605},{"x":-0.284,"y":1.582},{"x":-0.502,"y":1.549},{"x":-0.092,"y":1.539},{"x":-0.722,"y":1.473},{"x":-0.886,"y":1.448},{"x":-0.89,"y":1.382},{"x":-0.772,"y":1.364},{"x":-0.443,"y":1.405},{"x":-0.466,"y":1.395},{"x":-0.488,"y":1.384},{"x":-0.267,"y":1.438},{"x":-0.168,"y":1.387},{"x":0.107,"y":1.364},{"x":0.47,"y":1.433},{"x":0.588,"y":1.389},{"x":0.577,"y":1.374},{"x":0.565,"y":1.359},{"x":-0.092,"y":1.316},{"x":-0.58,"y":1.293},{"x":-0.502,"y":1.288},{"x":-0.457,"y":1.273},{"x":0.143,"y":1.293},{"x":0.169,"y":1.283},{"x":0.517,"y":1.26},{"x":0.761,"y":1.273},
{"x":1.315,"y":3.125},{"x":0.905,"y":2.798},{"x":1.746,"y":2.747},{"x":2.303,"y":2.767},{"x":1.267,"y":2.663},{"x":1.412,"y":2.681},{"x":0.985,"y":2.47},{"x":1.206,"y":2.247},{"x":1.116,"y":2.184},{"x":0.947,"y":2.158},{"x":0.86,"y":2.052},{"x":2.493,"y":2.186},{"x":2.028,"y":2.173},{"x":1.464,"y":2.085},{"x":1.526,"y":2.009},{"x":2.348,"y":2.072},{"x":2.135,"y":2.021},{"x":1.208,"y":2.006},{"x":1.035,"y":1.973},{"x":1.81,"y":1.892},{"x":0.879,"y":1.879},{"x":1.014,"y":1.831},{"x":1.184,"y":1.834},{"x":0.883,"y":1.77},{"x":1.981,"y":1.737},{"x":2.059,"y":1.707},{"x":0.807,"y":1.702},{"x":1.575,"y":1.722},{"x":1.618,"y":1.62},{"x":0.819,"y":1.582},{"x":0.921,"y":1.529},{"x":1.182,"y":1.539},{"x":1.265,"y":1.529},{"x":1.334,"y":1.562},{"x":1.376,"y":1.585},{"x":1.317,"y":1.519},{"x":1.312,"y":1.483},{"x":1.146,"y":1.488},{"x":1.575,"y":1.504},{"x":1.694,"y":1.476},{"x":1.755,"y":1.488},{"x":1.976,"y":1.486},{"x":2.45,"y":1.516},{"x":2.504,"y":1.516},{"x":0.826,"y":1.402},{"x":1.04,"y":1.425},{"x":1.085,"y":1.433},{"x":1.13,"y":1.397},{"x":1.002,"y":1.379},{"x":1.244,"y":1.392},{"x":1.262,"y":1.351},{"x":1.028,"y":1.344},{"x":1.018,"y":1.316},{"x":1.17,"y":1.329},{"x":1.071,"y":1.293},{"x":2.011,"y":1.389},{"x":2.158,"y":1.415},{"x":1.734,"y":1.362},{"x":1.746,"y":1.324},{"x":2.109,"y":1.326},{"x":2.315,"y":1.318},{"x":0.869,"y":1.26},{"x":1.485,"y":1.26},
{"x":1.485,"y":1.247},{"x":1.914,"y":1.24},{"x":2.239,"y":1.191},{"x":2.227,"y":1.179},{"x":1.635,"y":1.128},{"x":2.303,"y":1.067},{"x":2.44,"y":1.1},{"x":1.843,"y":1.001},{"x":1.782,"y":0.943},{"x":1.782,"y":0.923},{"x":1.756,"y":0.882},{"x":1.575,"y":0.917},{"x":1.485,"y":0.887},{"x":1.481,"y":0.841},{"x":1.44,"y":0.826},{"x":1.91,"y":0.9},{"x":2.014,"y":0.834},{"x":1.618,"y":0.702},{"x":2.102,"y":0.616},{"x":1.542,"y":0.603},{"x":1.497,"y":0.539},{"x":1.469,"y":0.438},{"x":1.62,"y":0.471},{"x":1.654,"y":0.458},{"x":1.91,"y":0.402},{"x":1.737,"y":0.321},{"x":1.58,"y":0.235},{"x":2.611,"y":0.245},{"x":2.426,"y":0.205},{"x":1.431,"y":0.042},{"x":1.514,"y":-0.133},{"x":1.583,"y":-0.217},{"x":1.459,"y":-0.265},{"x":1.485,"y":-0.315},{"x":2.109,"y":-0.211},{"x":1.905,"y":-0.303},{"x":1.976,"y":-0.432},{"x":1.459,"y":-0.737},{"x":1.419,"y":-0.764},{"x":1.952,"y":-0.762},
{"x":2.272,"y":-1.23},{"x":1.348,"y":-2.127},{"x":1.028,"y":-2.409},{"x":3.987,"y":2.302},{"x":-2.164,"y":-3.985}
]
},
"resolve":{"axis":{"x":"independent","y":"independent"}},
"layer":[
{"data":{"name":"cuts"},"mark":{"type":"line","color":"black","strokeWidth":1.2,"strokeDash":[34,33.2]},
"encoding":{
"x":{"field":"x","type":"quantitative","scale":{"domain":[-4,4],"nice":false,"zero":false},"axis":{"orient":"top","values":[-4,-3,-2,-1,0,1,2,3,4],"labels":false,"tickSize":{"condition":{"test":"datum.value % 2 === 0","value":-14},"value":-9}}},
"y":{"field":"y","type":"quantitative","scale":{"domain":[-4,4],"nice":false,"zero":false},"axis":{"orient":"right","values":[-4,-3,-2,-1,0,1,2,3,4],"labels":false,"tickSize":{"condition":{"test":"datum.value % 2 === 0","value":-14},"value":-9}}},
"detail":{"field":"side"},"order":{"field":"o"}}},
{"data":{"name":"outer"},"mark":{"type":"line","color":"black","strokeWidth":1.1,"strokeDash":[17.2,17.05],"strokeDashOffset":27.5,"interpolate":"cardinal-closed"},
"encoding":{
"x":{"field":"x","type":"quantitative","scale":{"domain":[-4,4],"nice":false,"zero":false},"axis":null},
"y":{"field":"y","type":"quantitative","scale":{"domain":[-4,4],"nice":false,"zero":false},"axis":null},
"order":{"field":"t"}}},
{"data":{"name":"inner"},"mark":{"type":"line","color":"black","strokeWidth":1.5,"interpolate":"cardinal-closed"},
"encoding":{
"x":{"field":"x","type":"quantitative","scale":{"domain":[-4,4],"nice":false,"zero":false},"axis":null},
"y":{"field":"y","type":"quantitative","scale":{"domain":[-4,4],"nice":false,"zero":false},"axis":null},
"order":{"field":"t"}}},
{"data":{"name":"points"},"mark":{"type":"point","filled":true,"color":"black","opacity":1,"size":44},
"encoding":{
"x":{"field":"x","type":"quantitative","scale":{"domain":[-4,4],"nice":false,"zero":false},"axis":{"orient":"bottom","values":[-4,-3,-2,-1,0,1,2,3,4],"labelPadding":35,"labelFlush":false,"labelOverlap":false,"labelExpr":"datum.value % 2 === 0 ? replace(format(datum.value,'d'),'-','− ') : ''","tickSize":{"condition":{"test":"datum.value % 2 === 0","value":-14},"value":-9}}},
"y":{"field":"y","type":"quantitative","scale":{"domain":[-4,4],"nice":false,"zero":false},"axis":{"orient":"left","values":[-4,-3,-2,-1,0,1,2,3,4],"labelPadding":35,"labelFlush":false,"labelOverlap":false,"labelExpr":"datum.value % 2 === 0 ? replace(format(datum.value,'d'),'-','− ') : ''","tickSize":{"condition":{"test":"datum.value % 2 === 0","value":-14},"value":-9}}}}}
]
}
